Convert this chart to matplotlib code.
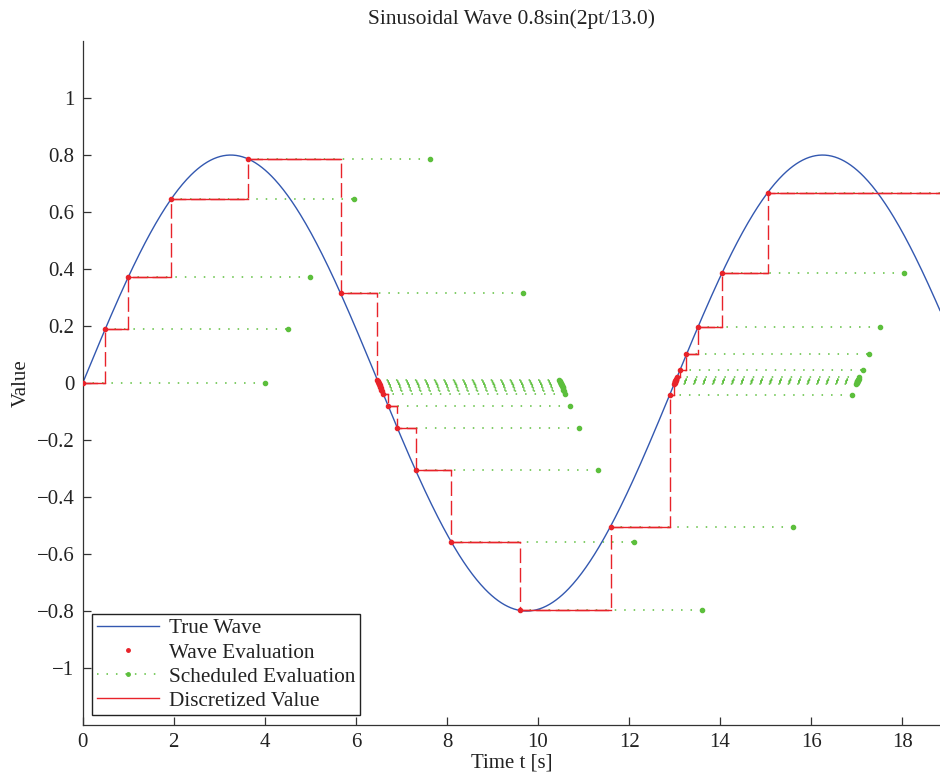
import matplotlib
matplotlib.use("Agg")
import matplotlib.pyplot as plt
from matplotlib.lines import Line2D
import numpy as np

plt.rcParams["font.family"] = ["Liberation Serif", "DejaVu Serif"]

# ── Wave parameters (from the title) ─────────────────────────────────────────
amp = 0.8
period = 13.0
t_end = 18.83

# ── Evaluation instants and the value read at each one ───────────────────────
eval_t = [0.0, 0.5, 1.0, 1.95, 3.63, 5.67,
          6.47, 6.48, 6.49, 6.50, 6.505, 6.51, 6.52, 6.53, 6.54, 6.55, 6.56, 6.57,
          6.60, 6.71, 6.91, 7.31, 8.10, 9.60, 11.60, 12.89,
          12.99, 13.00, 13.005, 13.01, 13.015, 13.02, 13.025, 13.03, 13.04,
          13.05, 13.13, 13.26, 13.52, 14.04, 15.05]
eval_v = [0.0, 0.19, 0.372, 0.647, 0.787, 0.315,
          0.012, 0.008, 0.004, 0.0, -0.002, -0.004, -0.008, -0.012, -0.015, -0.019, -0.023, -0.027,
          -0.039, -0.081, -0.158, -0.305, -0.558, -0.797, -0.505, -0.043,
          -0.004, 0.0, 0.002, 0.004, 0.006, 0.008, 0.010, 0.012, 0.015,
          0.022, 0.047, 0.101, 0.198, 0.385, 0.667]
# next evaluation is scheduled this many seconds later
lookahead = 4.0

blue = "#3358b0"
red = "#e8232a"
green = "#5cbf3c"

fig = plt.figure(figsize=(9.4, 7.79), dpi=100)
ax = fig.add_axes([0.088, 0.0693, 0.912, 0.878])

# True wave
tt = np.linspace(0, t_end, 800)
ax.plot(tt, amp * np.sin(2 * np.pi * tt / period), color=blue, lw=1.0, zorder=2)

# Scheduled evaluations (dotted line out to the scheduled time, dot at the end)
for t, v in zip(eval_t, eval_v):
    s = t + lookahead
    ax.plot([t, s], [v, v], color=green, lw=1.1, dashes=(1, 5.2), zorder=1)
    ax.plot([s], [v], ".", color=green, ms=6, zorder=1)

# Discretized value: dashed staircase with solid holds on top
step_t = eval_t + [t_end]
step_v = eval_v + [eval_v[-1]]
ax.plot(step_t, step_v, drawstyle="steps-post", color=red, lw=1.0,
        dashes=(10.5, 3.5), zorder=3)
for i in range(len(eval_t)):
    ax.plot([step_t[i], step_t[i + 1]], [eval_v[i], eval_v[i]],
            color=red, lw=1.0, zorder=3)

# Wave evaluations
ax.plot(eval_t, eval_v, ".", color=red, ms=6, zorder=4)

ax.set_xlim(0, t_end)
ax.set_ylim(-1.2, 1.2)
ax.set_xticks(np.arange(0, 19, 2))
ax.set_yticks([-1, -0.8, -0.6, -0.4, -0.2, 0, 0.2, 0.4, 0.6, 0.8, 1])
ax.set_yticklabels(["\u22121", "\u22120.8", "\u22120.6", "\u22120.4", "\u22120.2",
                    "0", "0.2", "0.4", "0.6", "0.8", "1"])
ax.tick_params(direction="in", length=6, width=0.9, color="#333",
               labelsize=15, labelcolor="#222", pad=6)
ax.spines[["top", "right"]].set_visible(False)
for sp in ["left", "bottom"]:
    ax.spines[sp].set_color("#333")
    ax.spines[sp].set_linewidth(0.9)

ax.set_title("Sinusoidal Wave 0.8sin(2pt/13.0)", fontsize=15.5, color="#222", pad=12)
ax.set_xlabel("Time t [s]", fontsize=15, color="#222", labelpad=1)
ax.set_ylabel("Value", fontsize=15, color="#222", labelpad=4)

handles = [
    Line2D([], [], color=blue, lw=1.0),
    Line2D([], [], color=red, marker=".", ms=5, ls="none"),
    Line2D([], [], color=green, lw=1.1, dashes=(1, 5.2), marker=".", ms=5),
    Line2D([], [], color=red, lw=1.0),
]
labels = ["True Wave", "Wave Evaluation", "Scheduled Evaluation", "Discretized Value"]
leg = ax.legend(handles, labels, loc="lower left", fontsize=15.3, fancybox=False,
                framealpha=1, edgecolor="#222", handlelength=2.9,
                labelspacing=0.2, borderpad=0.22, borderaxespad=0.45,
                handletextpad=0.5)
leg.get_frame().set_linewidth(1.0)
for txt in leg.get_texts():
    txt.set_color("#222")

fig.savefig("out.png", dpi=100)
